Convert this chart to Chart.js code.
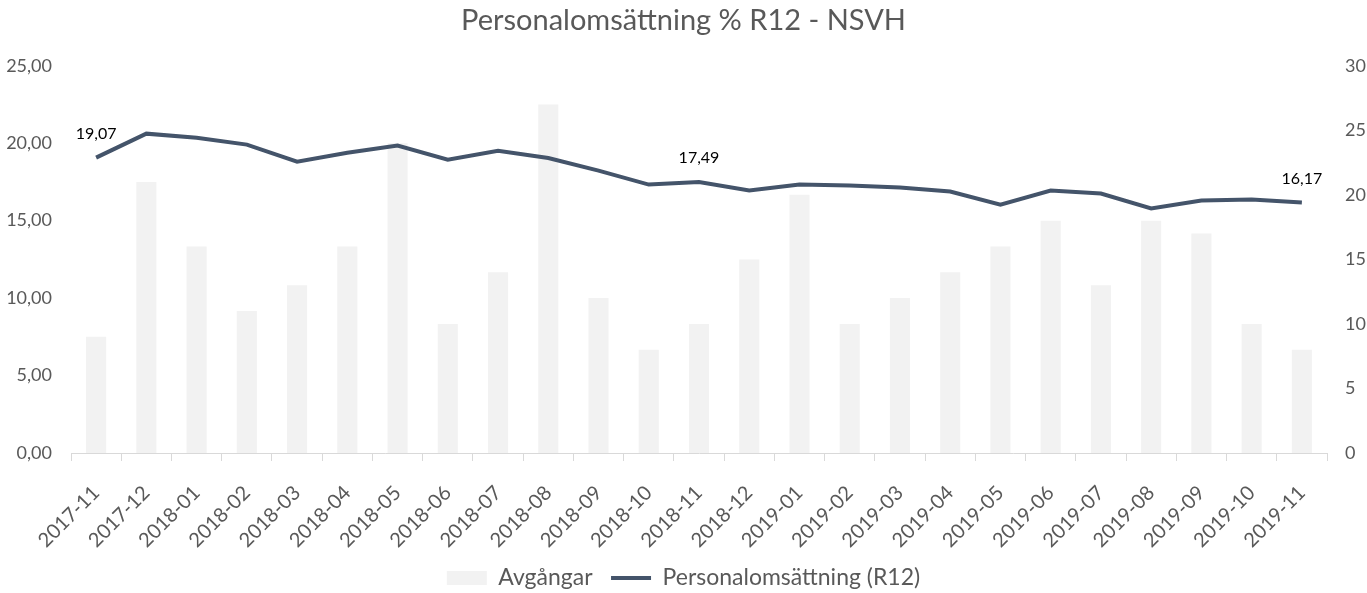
<!DOCTYPE html>
<html>
<head>
<meta charset="utf-8">
<script src="https://cdn.jsdelivr.net/npm/chart.js@4"></script>
<style>
  html, body { margin: 0; padding: 0; background: #ffffff; overflow: hidden; }
  #wrap { width: 1367px; height: 593px; }
</style>
</head>
<body>
<div id="wrap"><canvas id="c" width="1367" height="593"></canvas></div>
<script>
const categories = ['2017-11','2017-12','2018-01','2018-02','2018-03','2018-04','2018-05','2018-06','2018-07','2018-08','2018-09','2018-10','2018-11','2018-12','2019-01','2019-02','2019-03','2019-04','2019-05','2019-06','2019-07','2019-08','2019-09','2019-10','2019-11'];
const avgangar = [9, 21, 16, 11, 13, 16, 24, 10, 14, 27, 12, 8, 10, 15, 20, 10, 12, 14, 16, 18, 13, 18, 17, 10, 8];
const personalomsattning = [19.07, 20.62, 20.36, 19.91, 18.81, 19.39, 19.85, 18.94, 19.52, 19.05, 18.23, 17.33, 17.49, 16.95, 17.33, 17.27, 17.14, 16.88, 16.04, 16.95, 16.75, 15.79, 16.30, 16.37, 16.17];
const labelledPoints = [0, 12, 24];
const leftTicks = [0, 5, 10, 15, 20, 25];
const rightTicks = [0, 5, 10, 15, 20, 25, 30];

const FONT = "Lato, 'Open Sans', sans-serif";
const fmt2 = v => v.toFixed(2).replace('.', ',');

const pointLabelPlugin = {
  id: 'pointLabels',
  afterDatasetsDraw(chart) {
    const meta = chart.getDatasetMeta(1);
    const ctx = chart.ctx;
    ctx.save();
    ctx.font = "16px " + FONT;
    ctx.fillStyle = '#000000';
    ctx.textAlign = 'center';
    ctx.textBaseline = 'middle';
    labelledPoints.forEach(i => {
      const p = meta.data[i];
      ctx.fillText(fmt2(personalomsattning[i]), p.x, p.y - 24);
    });
    ctx.restore();
  }
};

new Chart(document.getElementById('c'), {
  data: {
    labels: categories,
    datasets: [
      {
        type: 'bar',
        label: 'Avgångar',
        data: avgangar,
        yAxisID: 'y1',
        backgroundColor: '#F2F2F2',
        borderWidth: 0,
        barPercentage: 0.4,
        categoryPercentage: 1,
        order: 2,
        pointStyle: 'rect'
      },
      {
        type: 'line',
        label: 'Personalomsättning (R12)',
        data: personalomsattning,
        yAxisID: 'y',
        borderColor: '#44546A',
        backgroundColor: '#44546A',
        borderWidth: 4,
        pointRadius: 0,
        tension: 0,
        order: 1,
        pointStyle: 'line'
      }
    ]
  },
  options: {
    responsive: false,
    animation: false,
    layout: { padding: { left: 0, right: 0, top: 0, bottom: -6.5 } },
    plugins: {
      title: {
        display: true,
        text: 'Personalomsättning % R12 - NSVH',
        color: '#595959',
        font: { family: FONT, size: 29, weight: 'normal' },
        padding: { top: 3, bottom: 28 }
      },
      legend: {
        position: 'bottom',
        labels: {
          color: '#595959',
          font: { family: FONT, size: 23 },
          usePointStyle: true,
          pointStyleWidth: 40,
          boxHeight: 14,
          padding: 18.5,
          sort: (a, b) => a.datasetIndex - b.datasetIndex
        }
      },
      tooltip: { enabled: false }
    },
    scales: {
      x: {
        type: 'category',
        offset: true,
        grid: { display: true, drawOnChartArea: false, drawTicks: true, tickLength: 8, color: '#D9D9D9', offset: true },
        border: { display: true, color: '#D9D9D9' },
        ticks: { color: '#595959', font: { family: FONT, size: 20 }, maxRotation: 45, minRotation: 45, autoSkip: false, padding: 20 },
        afterFit(s) { s.height = 95; }
      },
      y: {
        position: 'left',
        min: 0, max: 25,
        grid: { display: false },
        border: { display: false },
        afterBuildTicks(s) { s.ticks = leftTicks.map(v => ({ value: v })); },
        ticks: { color: '#595959', font: { family: FONT, size: 18 }, padding: 11, callback: v => fmt2(v) },
        afterFit(s) { s.width = 71; }
      },
      y1: {
        position: 'right',
        min: 0, max: 30,
        grid: { display: false },
        border: { display: false },
        afterBuildTicks(s) { s.ticks = rightTicks.map(v => ({ value: v })); },
        ticks: { color: '#595959', font: { family: FONT, size: 18 }, padding: 10, callback: v => String(v) },
        afterFit(s) { s.width = 40; }
      }
    }
  },
  plugins: [pointLabelPlugin]
});
</script>
</body>
</html>
